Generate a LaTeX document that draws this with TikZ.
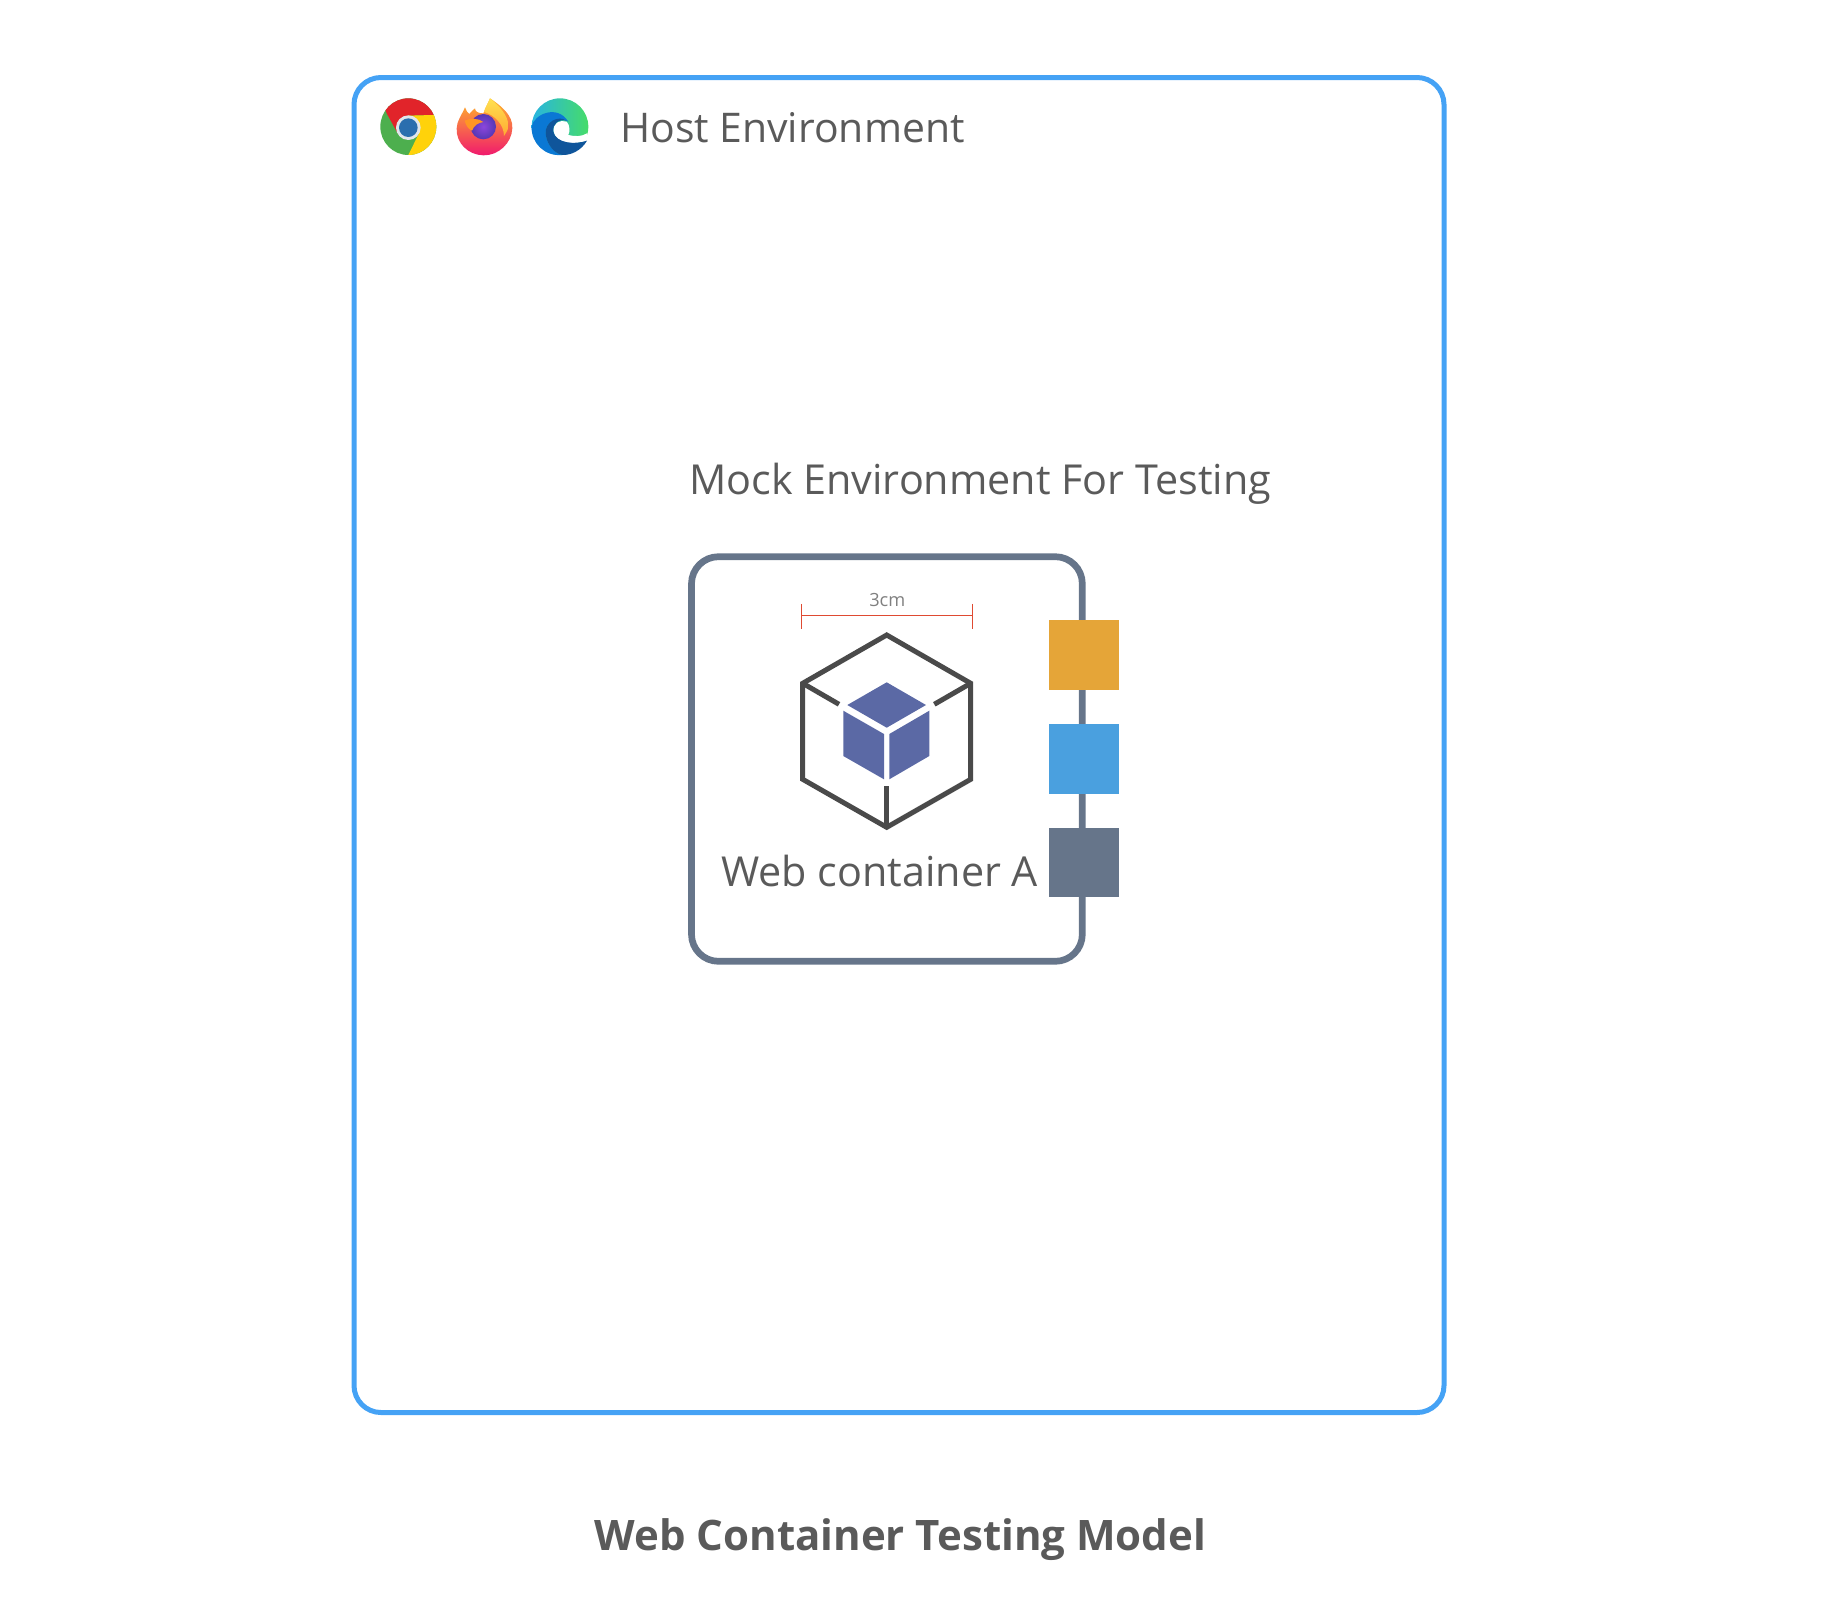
\documentclass[tikz,border=0pt]{standalone}
\usepackage{fontspec}
\setmainfont{Open Sans}
\usetikzlibrary{positioning, calc}
\definecolor{hostblue}{HTML}{45A2F5}
\definecolor{mockslate}{HTML}{66758A}
\definecolor{labelgray}{HTML}{5A5A5A}
\definecolor{cubedark}{HTML}{4A4A4A}
\definecolor{cubeblue}{HTML}{5B69A5}
\definecolor{portorange}{HTML}{E5A538}
\definecolor{portblue}{HTML}{4AA0DF}
\definecolor{dimred}{HTML}{DF4A32}
\tikzset{iconscale/.style={x=0.3333pt, y=-0.3333pt}}
\begin{document}
\begin{tikzpicture}[
    x=1pt, y=-1pt,
    envbox/.style={rectangle, rounded corners=27pt, inner sep=0pt},
    envlabel/.style={anchor=base west, inner sep=0pt, text=labelgray, font=\fontsize{41.3}{49}\selectfont},
    portbox/.style={rectangle, inner sep=0pt, minimum width=70pt, minimum height=69.5pt},
    cubeline/.style={draw=cubedark, line width=5pt, line join=miter},
]
\useasboundingbox (0,0) rectangle (1844,1612);

% Host box
\node[envbox, draw=hostblue, line width=5pt, minimum width=1090pt, minimum height=1335pt] (host) at (899, 745) {};

% Browser icons: chrome
\begin{scope}[shift={(375,90)}, iconscale]
  \begin{scope}
    \clip (100,110) ellipse [x radius=84, y radius=85];
    \fill[fill={rgb,255:red,77;green,175;blue,78}] (0,0) rectangle (240,240);
    \fill[fill={rgb,255:red,225;green,36;blue,42}] (35,70) -- (10,0) -- (190,0) -- (175,75) -- (100,77) -- (68,130) -- cycle;
    \fill[fill={rgb,255:red,255;green,210;blue,10}] (175,75) -- (220,70) -- (220,220) -- (100,220) -- (100,195) -- (132,130) -- (100,77) -- cycle;
  \end{scope}
  \fill[fill={rgb,255:red,225;green,230;blue,235}] (100,113) circle (37);
  \fill[fill={rgb,255:red,42;green,110;blue,174}] (100,113) circle (28);
\end{scope}

% Browser icons: firefox
\begin{scope}[shift={(450,90)}, iconscale]
  \shade[top color={rgb,255:red,255;green,185;blue,40}, middle color={rgb,255:red,255;green,110;blue,35}, bottom color={rgb,255:red,240;green,25;blue,110}]
    (120,25) .. controls (150,45) and (190,75) .. (187,115)
    .. controls (185,160) and (145,197) .. (100,196)
    .. controls (55,195) and (18,160) .. (20,115)
    .. controls (20,95) and (35,75) .. (45,52)
    .. controls (50,62) and (52,70) .. (58,72)
    .. controls (62,65) and (70,60) .. (75,55)
    .. controls (75,65) and (85,70) .. (100,70) -- cycle;
  \shade[top color={rgb,255:red,255;green,225;blue,80}, bottom color={rgb,255:red,255;green,170;blue,50}]
    (120,25) .. controls (145,45) and (175,75) .. (176,110)
    .. controls (172,122) and (168,130) .. (162,138)
    .. controls (162,105) and (135,75) .. (102,66)
    .. controls (105,50) and (115,40) .. (120,25) -- cycle;
  \shade[inner color={rgb,255:red,140;green,70;blue,220}, outer color={rgb,255:red,85;green,55;blue,180}] (100,110) circle (38);
  \fill[fill={rgb,255:red,255;green,150;blue,35}]
    (44,92) .. controls (60,84) and (85,84) .. (100,96)
    .. controls (85,98) and (72,106) .. (66,122)
    .. controls (55,118) and (47,105) .. (44,92) -- cycle;
\end{scope}

% Browser icons: edge
\begin{scope}[shift={(525,90)}, iconscale]
  \shade[left color={rgb,255:red,40;green,180;blue,225}, right color={rgb,255:red,70;green,220;blue,105}] (105,110) circle (85);
  \fill[white]
    (85,120) .. controls (85,100) and (105,88) .. (125,95)
    .. controls (135,105) and (135,125) .. (130,135)
    .. controls (150,140) and (170,140) .. (186,130) -- (186,152)
    .. controls (150,165) and (90,165) .. (85,120) -- cycle;
  \fill[fill={rgb,255:red,10;green,120;blue,212}]
    (20,110) .. controls (25,75) and (95,40) .. (130,95)
    .. controls (100,75) and (60,95) .. (62,130)
    .. controls (64,160) and (85,190) .. (112,195)
    .. controls (60,200) and (18,160) .. (20,110) -- cycle;
  \fill[fill={rgb,255:red,15;green,85;blue,155}]
    (62,130) .. controls (60,95) and (100,75) .. (125,92)
    .. controls (100,85) and (80,105) .. (85,125)
    .. controls (92,160) and (150,165) .. (186,152)
    .. controls (170,180) and (140,196) .. (112,195)
    .. controls (85,190) and (64,160) .. (62,130) -- cycle;
\end{scope}

% Labels
\node[envlabel, font=\fontsize{40.9}{49}\selectfont] (hostlabel) at (620, 142.7) {Host Environment};
\node[envlabel] (mocklabel) at (689, 494) {Mock Environment For Testing};

% Mock box
\node[envbox, draw=mockslate, line width=6.7pt, minimum width=390.8pt, minimum height=404.6pt] (mock) at (886.9, 759) {};
\node[envlabel] (weblabel) at (721, 886.7) {Web container A};

% Ports
\node[portbox, fill=portorange] (portA) at (1084, 655) {};
\node[portbox, fill=portblue] (portB) at (1084, 759) {};
\node[portbox, fill=mockslate] (portC) at (1084, 862.5) {};

% Width marker
\coordinate (dimL) at (801.3, 615.3);
\coordinate (dimR) at (972.3, 615.3);
\draw[dimred, line width=1pt] (dimL) -- (dimR);
\draw[dimred, line width=1pt] ($(dimL)+(0,-11.5)$) -- ($(dimL)+(0,14)$);
\draw[dimred, line width=1pt] ($(dimR)+(0,-11.5)$) -- ($(dimR)+(0,14)$);
\node[anchor=base, inner sep=0pt, text=gray, font=\fontsize{18.2}{22}\selectfont] (dimtext) at (887.3, 606.5) {3cm};

% Cube
\draw[cubeline] (886.7,635) -- (970.7,683.3) -- (970.7,779.3) -- (886.7,827.3) -- (802.7,779.3) -- (802.7,683.3) -- cycle;
\draw[cubeline] (802.7,683.3) -- (839,704.3);
\draw[cubeline] (970.7,683.3) -- (934.3,704.3);
\draw[cubeline] (886.7,827.3) -- (886.7,785.7);
\fill[cubeblue] (886.7,682.3) -- (926,705) -- (886.7,727.7) -- (847.3,705) -- cycle;
\fill[cubeblue] (843.3,710.7) -- (884,734) -- (884,779.3) -- (843.3,756) -- cycle;
\fill[cubeblue] (889.3,734) -- (929.3,710.7) -- (929.3,756) -- (889.3,779.3) -- cycle;

% Title
\node[envlabel, font=\fontsize{42}{50}\selectfont\bfseries] (title) at (594.5, 1550.5) {Web Container Testing Model};
\end{tikzpicture}
\end{document}
